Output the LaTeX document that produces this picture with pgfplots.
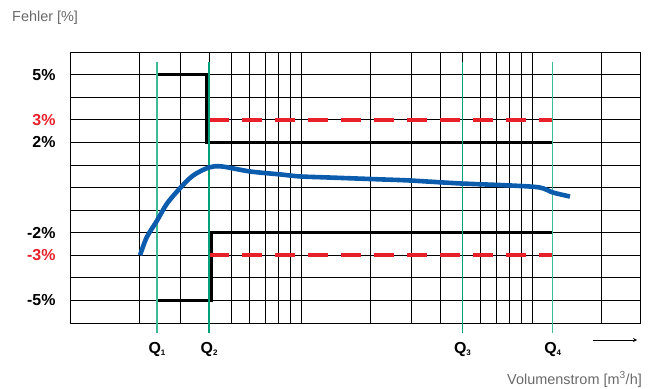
\documentclass[border=0pt]{standalone}
\usepackage{fontspec}
\setmainfont{Liberation Sans}
\usepackage{pgfplots}
\pgfplotsset{compat=1.18}
\definecolor{limRed}{HTML}{E8202A}
\definecolor{curveBlue}{HTML}{0B5CAD}
\definecolor{qDark}{HTML}{00A07A}
\definecolor{qLight}{HTML}{3DBB95}
\definecolor{labGray}{HTML}{6A6A6A}

\begin{document}
\begin{tikzpicture}
\begin{axis}[
    name=ax, at={(0,0)}, anchor=south west,
    scale only axis, width=570bp, height=271bp,
    xmode=log, xmin=1, xmax=293.5,
    ymin=-6, ymax=6,
    clip=false,
    xtick={2,3,4,5,6,7,8,9,10,20,30,40,50,60,70,80,90,100,200},
    xticklabel={\mbox{}},
    ytick={-5,-3,-2,2,3,5},
    yticklabels={-5\%,\textcolor{limRed}{-3\%},-2\%,2\%,\textcolor{limRed}{3\%},5\%},
    yticklabel style={font=\fontsize{16}{18}\selectfont\bfseries, xshift=-11bp},
    minor ytick={-6,-5,...,6},
    xmajorgrids, ymajorgrids, yminorgrids,
    major grid style={black, line width=0.7bp},
    minor grid style={black, line width=0.7bp},
    major tick length=0pt, minor tick length=0pt,
    axis line style={black, line width=0.8bp},
]

% tolerance limits (black)
\addplot[black, line width=3.3bp, line join=miter] coordinates {
    (2.38,5) (3.92,5) (3.92,2) (123,2)};
\addplot[black, line width=3.3bp, line join=miter] coordinates {
    (2.38,-5) (4.08,-5) (4.08,-2) (123,-2)};

% extended limits (red dashed)
\addplot[limRed, line width=3.6bp, dash pattern=on 20bp off 13bp] coordinates {(4.0,3) (123,3)};
\addplot[limRed, line width=3.6bp, dash pattern=on 20bp off 13bp] coordinates {(4.0,-3) (123,-3)};

% Q markers
\addplot[qLight, line width=1.3bp] coordinates {(2.38,5.56) (2.38,-6.45)};
\addplot[qDark, line width=1.8bp] coordinates {(4.0,5.56) (4.0,-6.45)};
\addplot[qDark, line width=1.3bp] coordinates {(50,5.56) (50,-6.45)};
\addplot[qLight, line width=1.3bp] coordinates {(123,5.56) (123,-6.45)};

% error curve
\addplot[curveBlue, line width=4.6bp, smooth] coordinates {
    (2.01,-3.0) (2.15,-2.2) (2.38,-1.47) (2.63,-0.71) (2.99,-0.04)
    (3.41,0.53) (4.0,0.89) (4.55,0.93) (6.01,0.71) (8.11,0.58)
    (9.9,0.49) (13.4,0.44) (22,0.36) (29.6,0.31) (48.8,0.18)
    (80.3,0.09) (108,0) (123,-0.22) (146,-0.4)};

\foreach \q/\n in {2.38/1, 4.0/2, 50/3, 123/4} {
    \edef\tmp{\noexpand\node[anchor=base, inner sep=0pt, font=\noexpand\fontsize{16}{18}\noexpand\selectfont\noexpand\bfseries]
        at (axis cs:\q,-7.35) {Q\noexpand\raisebox{-2.5bp}{\noexpand\fontsize{8}{8}\noexpand\selectfont \n}};}
    \tmp
}
\end{axis}

\node[anchor=base west, inner sep=0pt, text=labGray, font=\fontsize{14.5}{16}\selectfont]
    at ([shift={(-58bp,301bp)}]ax.south west) {Fehler [\%]};
\node[anchor=base east, inner sep=0pt, text=labGray, font=\fontsize{14.5}{16}\selectfont]
    at ([shift={(572bp,-61bp)}]ax.south west) {Volumenstrom [m\textsuperscript{3}/h]};
\draw[-stealth, line width=0.8bp] ([shift={(523bp,-17bp)}]ax.south west) -- ++(44bp,0);

\pgfresetboundingbox
\path ([shift={(-70bp,-66bp)}]ax.south west) rectangle ++(648bp,389bp);
\end{tikzpicture}
\end{document}
